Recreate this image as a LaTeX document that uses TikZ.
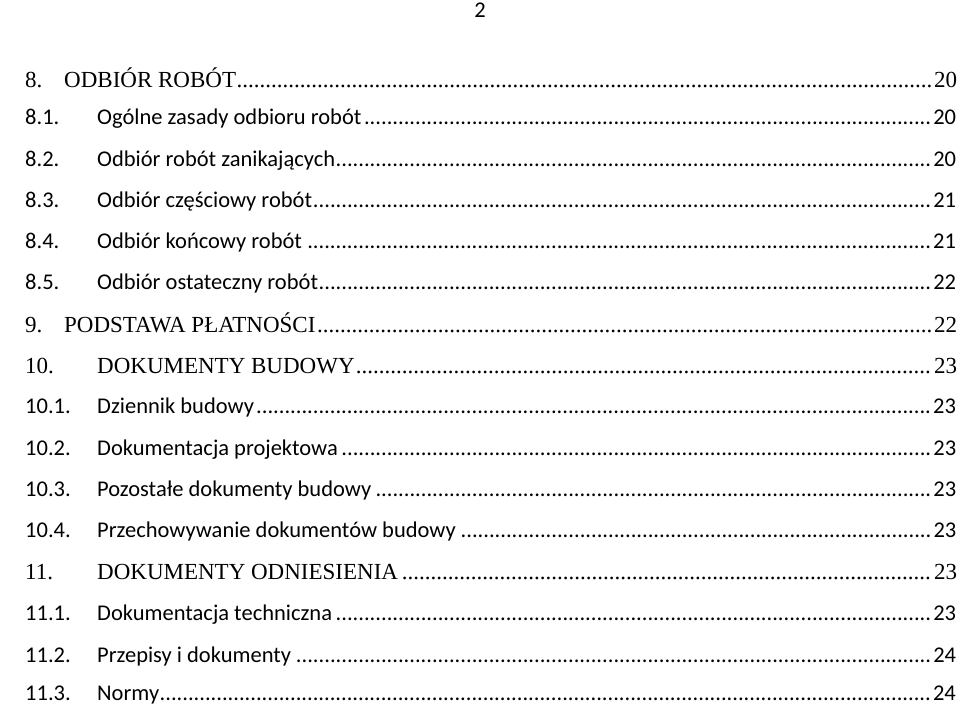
\documentclass[tikz,border=0pt]{standalone}
\usepackage{fontspec}
\setmainfont{Liberation Serif}
\newfontfamily\bodyfont{Carlito}
\usetikzlibrary{positioning}
\newcommand{\tocdots}{\leaders\hbox{.}\hfill}
\newcommand{\tocrow}[7]{%
  \node [num_style,font=#4] (#1n) at (25,#2) {#3};
  \node [title_style,font=#4] (#1t) at (#5,#2) {\makebox[\dimexpr957pt-#5pt\relax][l]{#6\tocdots#7}};
}
\begin{document}
\begin{tikzpicture}[x=1pt, y=-1pt,
        num_style/.style={anchor=base west, inner sep=0pt},
        title_style/.style={anchor=base west, inner sep=0pt}]
        \useasboundingbox (0,0) rectangle (960,705);
        \node [anchor=base, inner sep=0pt, font=\bodyfont\fontsize{22.5}{26}\selectfont] (pg) at (480,17) {2};

        \tocrow{a}{87}{8.}{\fontsize{23}{27}\selectfont}{64}{ODBIÓR ROBÓT}{20}
        \tocrow{b}{124}{8.1.}{\bodyfont\fontsize{22.5}{26}\selectfont}{97}{Ogólne zasady odbioru robót}{20}
        \tocrow{c}{166}{8.2.}{\bodyfont\fontsize{22.5}{26}\selectfont}{97}{Odbiór robót zanikających}{20}
        \tocrow{d}{207}{8.3.}{\bodyfont\fontsize{22.5}{26}\selectfont}{97}{Odbiór częściowy robót}{21}
        \tocrow{e}{248}{8.4.}{\bodyfont\fontsize{22.5}{26}\selectfont}{97}{Odbiór końcowy robót}{21}
        \tocrow{f}{289}{8.5.}{\bodyfont\fontsize{22.5}{26}\selectfont}{97}{Odbiór ostateczny robót}{22}
        \tocrow{g}{332}{9.}{\fontsize{23}{27}\selectfont}{64}{PODSTAWA PŁATNOŚCI}{22}
        \tocrow{h}{373}{10.}{\fontsize{23}{27}\selectfont}{97}{DOKUMENTY BUDOWY}{23}
        \tocrow{i}{413}{10.1.}{\bodyfont\fontsize{22.5}{26}\selectfont}{97}{Dziennik budowy}{23}
        \tocrow{j}{455}{10.2.}{\bodyfont\fontsize{22.5}{26}\selectfont}{97}{Dokumentacja projektowa}{23}
        \tocrow{k}{496}{10.3.}{\bodyfont\fontsize{22.5}{26}\selectfont}{97}{Pozostałe dokumenty budowy}{23}
        \tocrow{l}{537}{10.4.}{\bodyfont\fontsize{22.5}{26}\selectfont}{97}{Przechowywanie dokumentów budowy}{23}
        \tocrow{m}{579}{11.}{\fontsize{23}{27}\selectfont}{97}{DOKUMENTY ODNIESIENIA}{23}
        \tocrow{n}{620}{11.1.}{\bodyfont\fontsize{22.5}{26}\selectfont}{97}{Dokumentacja techniczna}{23}
        \tocrow{o}{662}{11.2.}{\bodyfont\fontsize{22.5}{26}\selectfont}{97}{Przepisy i dokumenty}{24}
        \tocrow{p}{700}{11.3.}{\bodyfont\fontsize{22.5}{26}\selectfont}{97}{Normy}{24}
\end{tikzpicture}
\end{document}
